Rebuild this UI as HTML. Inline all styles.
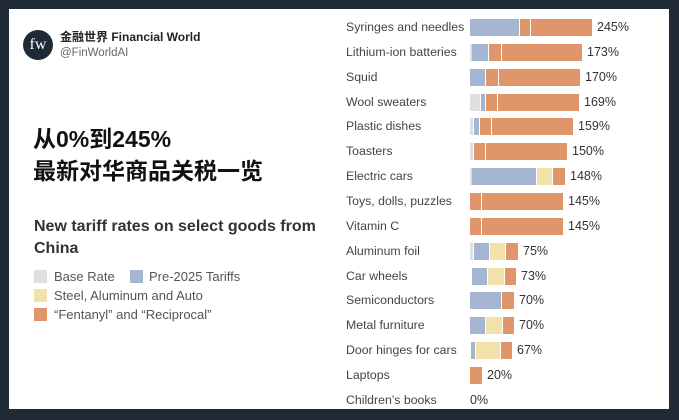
<!DOCTYPE html>
<html><head><meta charset="utf-8"><style>
*{margin:0;padding:0;box-sizing:border-box}
body{width:679px;height:420px;background:#1f2a36;position:relative;overflow:hidden;font-family:"Liberation Sans","Noto Sans CJK SC",sans-serif}
#card{position:absolute;left:9px;top:9px;width:660px;height:400px;background:#fff}
.a{position:absolute;white-space:nowrap}
.lab{position:absolute;left:346px;font-size:12.3px;color:#444;line-height:17px}
.val{position:absolute;font-size:12.5px;color:#333;line-height:17px}
.s{position:absolute;height:17px}
.B{background:#a4b5d2}.O{background:#e0966b}.Y{background:#f2e1aa}.G{background:#dedfe1}
.sq{position:absolute;left:34px;width:13px;height:13px}
.lg{position:absolute;left:54px;font-size:13px;color:#555;line-height:15px}
</style></head><body>
<div id="card"></div>
<div class="a" style="left:23px;top:30px;width:30px;height:30px;border-radius:50%;background:#1f2a36;color:#fff;font-family:'Liberation Serif',serif;font-size:16px;line-height:30px;text-align:center">fw</div>
<div class="a" style="left:60px;top:30px;font-size:12px;line-height:15px;font-weight:bold;color:#222">金融世界 Financial World</div>
<div class="a" style="left:60px;top:46px;font-size:11.5px;line-height:14px;color:#666">@FinWorldAI</div>
<div class="a" style="left:33px;top:120px;font-size:23px;font-weight:bold;color:#111">从0%到245%</div>
<div class="a" style="left:33px;top:152px;font-size:23px;font-weight:bold;color:#111">最新对华商品关税一览</div>
<div class="a" style="left:34px;top:218px;font-size:16px;font-weight:bold;color:#333">New tariff rates on select goods from</div>
<div class="a" style="left:34px;top:240px;font-size:16px;font-weight:bold;color:#333">China</div>
<div class="sq G" style="top:270px"></div><div class="lg" style="top:269px">Base Rate</div>
<div class="sq B" style="left:130px;top:270px"></div><div class="lg" style="left:149px;top:269px">Pre-2025 Tariffs</div>
<div class="sq Y" style="top:289px"></div><div class="lg" style="top:288px">Steel, Aluminum and Auto</div>
<div class="sq O" style="top:308px"></div><div class="lg" style="top:307px">“Fentanyl” and “Reciprocal”</div>
<div id="rows"></div>
<script>
var rows=[
["Syringes and needles","245%",[["B",470,519],["O",520,530],["O",531,592]]],
["Lithium-ion batteries","173%",[["G",470,472],["B",472,488],["O",489,501],["O",502,582]]],
["Squid","170%",[["B",470,485],["O",486,498],["O",499,580]]],
["Wool sweaters","169%",[["G",470,480],["B",481,485],["O",486,497],["O",498,579]]],
["Plastic dishes","159%",[["G",470,473],["B",474,479],["O",480,491],["O",492,573]]],
["Toasters","150%",[["G",470,473],["O",474,485],["O",486,567]]],
["Electric cars","148%",[["G",470,472],["B",472,536],["Y",537,552],["O",553,565]]],
["Toys, dolls, puzzles","145%",[["O",470,481],["O",482,563]]],
["Vitamin C","145%",[["O",470,481],["O",482,563]]],
["Aluminum foil","75%",[["G",470,473],["B",474,489],["Y",490,505],["O",506,518]]],
["Car wheels","73%",[["B",472,487],["Y",488,504],["O",505,516]]],
["Semiconductors","70%",[["B",470,501],["O",502,514]]],
["Metal furniture","70%",[["B",470,485],["Y",486,502],["O",503,514]]],
["Door hinges for cars","67%",[["B",471,475],["Y",476,500],["O",501,512]]],
["Laptops","20%",[["O",470,482]]],
["Children’s books","0%",[]]];
var h="";
rows.forEach(function(r,i){var y=Math.round(19+i*24.85);
h+='<div class="lab" style="top:'+y+'px">'+r[0]+'</div>';
var end=470;r[2].forEach(function(s){h+='<div class="s '+s[0]+'" style="left:'+s[1]+'px;top:'+y+'px;width:'+(s[2]-s[1])+'px"></div>';end=s[2];});
h+='<div class="val" style="left:'+(end===470?470:end+5)+'px;top:'+y+'px">'+r[1]+'</div>';});
document.getElementById("rows").innerHTML=h;
</script>
</body></html>
